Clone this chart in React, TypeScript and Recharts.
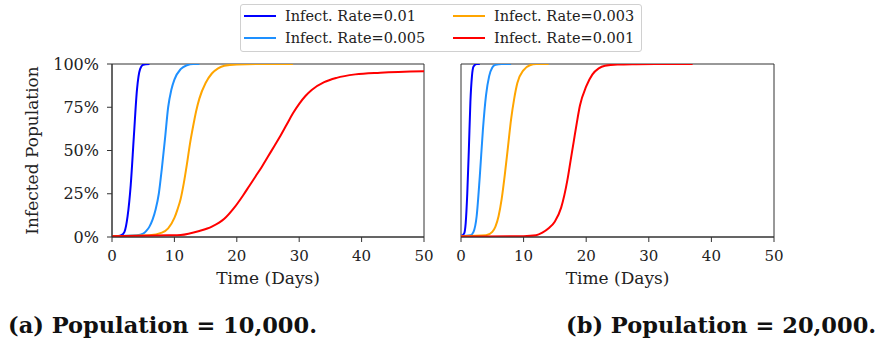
import React from "react";
import { LineChart, Line, XAxis, YAxis, ReferenceArea } from "recharts";

const xTicks = [0, 10, 20, 30, 40, 50];
const yTicks = [0, 25, 50, 75, 100];

const rateLabels = ["Infect. Rate=0.01", "Infect. Rate=0.005", "Infect. Rate=0.003", "Infect. Rate=0.001"];
const rateColors = ["#0000ff", "#1e90ff", "#ffa500", "#ff0000"];

// (a) population 10,000
const daysA1 = [0, 1, 1.5, 2, 2.5, 3, 3.5, 4, 4.5, 5, 6];
const infA1 = [0.5, 0.6, 1, 3, 12, 30, 58, 85, 97, 99.6, 100];
const daysA2 = [0, 4, 5, 5.5, 6, 6.5, 7, 7.5, 8, 8.5, 9, 9.5, 10, 11, 12, 13, 14];
const infA2 = [0.5, 1, 2, 3.5, 6, 10, 16, 25, 40, 57, 75, 85, 91, 97, 99.3, 100, 100];
const daysA3 = [0, 6, 8, 9, 10, 10.5, 11, 11.5, 12, 12.5, 13, 13.5, 14, 15, 16, 17, 18, 20, 24, 29];
const infA3 = [0.5, 1, 2.5, 5, 11, 16, 22, 31, 42, 54, 64, 73, 80, 89, 94.5, 97.5, 99, 99.7, 100, 100];
const daysA4 = [0, 5, 9, 11, 14, 16, 18, 19.5, 21, 22, 23, 24, 25, 26, 27, 28, 29, 30, 31, 32, 34, 36, 39, 43, 50];
const infA4 = [0.5, 0.7, 1, 1.2, 3.5, 6, 10.5, 16.5, 24, 29.5, 35, 40.5, 46.5, 52.5, 58.5, 65, 71.5, 77, 81.5, 85, 89.5, 92, 94, 95, 95.8];

// (b) population 20,000
const daysB1 = [0, 0.5, 0.75, 1, 1.25, 1.5, 1.75, 2, 2.5, 3];
const infB1 = [0.5, 2, 8, 25, 50, 78, 93, 98.5, 100, 100];
const daysB2 = [0, 1.5, 2, 2.5, 3, 3.5, 4, 4.5, 5, 5.5, 6.5, 8];
const infB2 = [0.5, 1, 3, 12, 35, 62, 82, 93, 98, 99.5, 100, 100];
const daysB3 = [0, 4, 5, 5.5, 6, 6.5, 7, 7.5, 8, 8.5, 9, 10, 11, 12, 14];
const infB3 = [0.5, 1, 3, 6, 12, 22, 36, 52, 68, 80, 89, 96.5, 99.3, 100, 100];
const daysB4 = [0, 10, 12, 13, 14, 15, 16, 17, 17.5, 18, 18.5, 19, 20, 21, 22, 23, 25, 28, 31, 37];
const infB4 = [0.3, 0.5, 1, 2.5, 5, 9, 17, 33, 44, 55, 66, 76, 87, 94, 97.5, 99, 99.7, 99.9, 100, 100];

const zip = (t: number[], v: number[]) => t.map((d, i) => ({ t: d, v: v[i] }));

const panelA = [zip(daysA1, infA1), zip(daysA2, infA2), zip(daysA3, infA3), zip(daysA4, infA4)];
const panelB = [zip(daysB1, infB1), zip(daysB2, infB2), zip(daysB3, infB3), zip(daysB4, infB4)];

const FONT = "'DejaVu Serif', serif";
const INK = "#333";

function Panel({ series, showY, margin }: any) {
  return (
    <LineChart width={440} height={300} margin={margin}>
      <XAxis
        type="number"
        dataKey="t"
        domain={[0, 50]}
        ticks={xTicks}
        allowDataOverflow
        height={47}
        stroke={INK}
        tickSize={5}
        tickMargin={8}
        tick={{ fontSize: 15, fill: "#222", fontFamily: FONT }}
        label={{
          value: "Time (Days)",
          position: "insideBottom",
          offset: 0,
          style: { fontSize: 17, fill: "#222", fontFamily: FONT },
        }}
      />
      <YAxis
        type="number"
        domain={[0, 100]}
        ticks={yTicks}
        allowDataOverflow
        hide={!showY}
        width={60}
        stroke={INK}
        tickSize={5}
        tickMargin={8}
        tickFormatter={(v: number) => `${v}%`}
        tick={{ fontSize: 16, fill: "#222", fontFamily: FONT }}
      />
      {series.map((d: any, i: number) => (
        <Line
          key={i}
          data={d}
          dataKey="v"
          type="monotone"
          stroke={rateColors[i]}
          strokeWidth={2}
          dot={false}
          isAnimationActive={false}
        />
      ))}
      <ReferenceArea x1={0} x2={50} y1={0} y2={100} fill="none" fillOpacity={0} stroke={INK} strokeWidth={1} />
    </LineChart>
  );
}

function LegendBox() {
  return (
    <div
      style={{
        position: "absolute",
        left: 240,
        top: 4,
        width: 402,
        height: 48,
        boxSizing: "border-box",
        border: "1px solid #d0d0d0",
        borderRadius: 3,
        background: "white",
        fontFamily: FONT,
        fontSize: 14.5,
        color: "#222",
      }}
    >
      {rateLabels.map((label, i) => {
        const col = Math.floor(i / 2);
        const row = i % 2;
        return (
          <div
            key={label}
            style={{
              position: "absolute",
              left: 3 + col * 209,
              top: row * 22,
              height: 22,
              display: "flex",
              alignItems: "center",
              whiteSpace: "nowrap",
            }}
          >
            <span style={{ display: "inline-block", width: 32, height: 2.5, background: rateColors[i], marginRight: 9 }} />
            <span>{label}</span>
          </div>
        );
      })}
    </div>
  );
}

const captionStyle: React.CSSProperties = {
  position: "absolute",
  top: 312,
  lineHeight: "26px",
  fontFamily: FONT,
  fontWeight: "bold",
  fontSize: 22.5,
  color: "#111",
  whiteSpace: "nowrap",
};

export default function App() {
  return (
    <div style={{ position: "absolute", left: 0, top: 0, width: 879, height: 341, background: "white", overflow: "hidden" }}>
      <div style={{ position: "absolute", left: 0, top: 0 }}>
        <Panel series={panelA} showY margin={{ top: 64, right: 16, bottom: 16, left: 52 }} />
      </div>
      <div style={{ position: "absolute", left: 440, top: 0 }}>
        <Panel series={panelB} showY={false} margin={{ top: 64, right: 106, bottom: 16, left: 21 }} />
      </div>
      <svg width={60} height={300} style={{ position: "absolute", left: 0, top: 0 }}>
        <text
          x={32}
          y={150.5}
          transform="rotate(-90 32 150.5)"
          textAnchor="middle"
          dominantBaseline="central"
          fontFamily={FONT}
          fontSize={17}
          fill="#222"
        >
          Infected Population
        </text>
      </svg>
      <LegendBox />
      <div style={{ ...captionStyle, left: 8 }}>(a) Population = 10,000.</div>
      <div style={{ ...captionStyle, left: 566 }}>(b) Population = 20,000.</div>
    </div>
  );
}
